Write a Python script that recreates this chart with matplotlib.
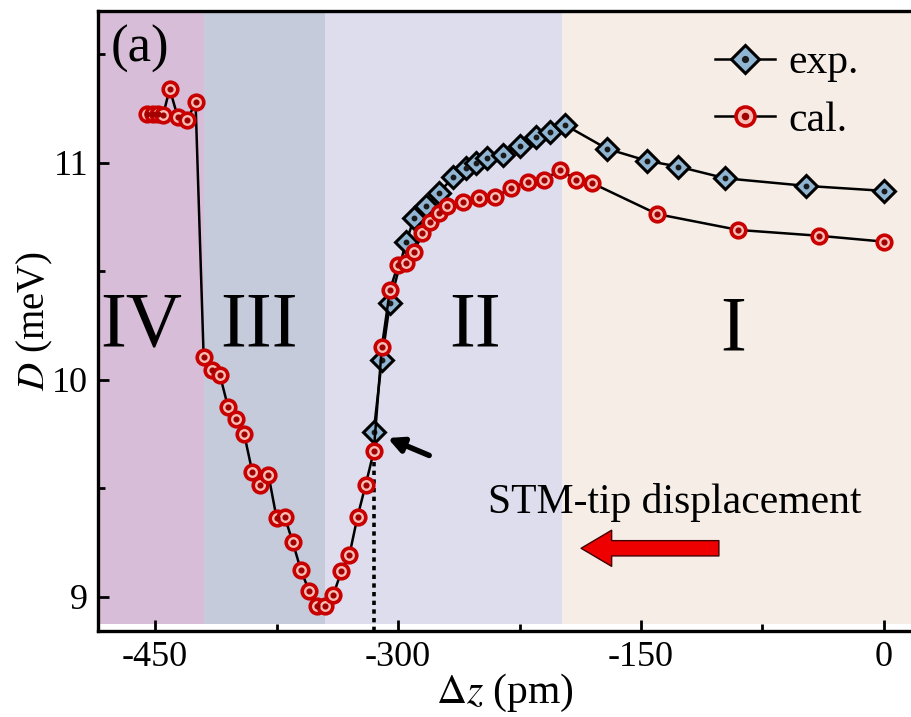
import matplotlib
matplotlib.use("Agg")
import matplotlib.pyplot as plt
from matplotlib.legend_handler import HandlerTuple

plt.rcParams['font.family'] = ['Liberation Serif', 'DejaVu Serif']
plt.rcParams['mathtext.fontset'] = 'stix'
plt.rcParams['axes.unicode_minus'] = False

# ---- data ----
cal_x = [-455, -451, -448, -445, -441, -436, -430, -425,
         -420, -415, -410, -405, -400, -395, -390, -385, -380, -375, -370,
         -365, -360, -355, -350, -345, -340, -335, -330, -325, -320, -315,
         -310, -305, -300, -295, -290, -285, -280, -275, -270, -260, -250,
         -240, -230, -220, -210, -200, -190, -180, -140, -90, -40, 0]
cal_y = [11.226, 11.226, 11.226, 11.221, 11.341, 11.212, 11.198, 11.281,
         10.105, 10.046, 10.023, 9.877, 9.820, 9.751, 9.577, 9.516, 9.562, 9.365, 9.370,
         9.252, 9.124, 9.029, 8.959, 8.959, 9.009, 9.117, 9.194, 9.370, 9.516, 9.670,
         10.151, 10.415, 10.530, 10.538, 10.591, 10.676, 10.729, 10.768, 10.799, 10.822, 10.837,
         10.845, 10.883, 10.914, 10.922, 10.968, 10.922, 10.906, 10.764, 10.691, 10.664, 10.637]

exp_x = [-315, -310, -305, -295, -290, -283, -275, -266, -258, -252, -245,
         -235, -225, -215, -206, -197, -171, -146, -127, -98, -48, 0]
exp_y = [9.762, 10.092, 10.356, 10.637, 10.745, 10.799, 10.860, 10.934, 10.976, 10.999, 11.024,
         11.037, 11.080, 11.118, 11.144, 11.175, 11.065, 11.009, 10.983, 10.929, 10.894, 10.871]

region_names = ['IV', 'III', 'II', 'I']
region_edges = [-490, -420, -345, -199, 20]
region_colors = ['#d7bdd7', '#c6cbdc', '#dddded', '#f6eee6']
region_label_x = [-458.5, -386, -252.5, -93]
region_label_y = [10.157, 10.157, 10.157, 10.14]

xlim = (-485.2, 17.3)
ylim = (8.843, 11.70)

# ---- figure ----
fig = plt.figure(figsize=(9.12, 7.17), dpi=100)
ax = fig.add_axes([0.1075, 0.12, 0.8925, 0.8647])

for i, name in enumerate(region_names):
    ax.axvspan(region_edges[i], region_edges[i + 1], ymin=0.012, ymax=1.0,
               color=region_colors[i], lw=0, zorder=0)
    ax.text(region_label_x[i], region_label_y[i], name, fontsize=56,
            ha='center', va='baseline', zorder=1)

# dotted vertical marker line
ax.vlines(exp_x[0], ylim[0], exp_y[0] - 0.03, colors='black',
          linestyles=(0, (1.2, 1.2)), lw=2.6, zorder=2)

# exp series
l_exp, = ax.plot(exp_x, exp_y, '-', color='black', lw=1.8, marker='D', ms=10.8,
                 mfc='#8fb5d2', mec='black', mew=2.2, zorder=3)
d_exp, = ax.plot(exp_x, exp_y, ls='none', marker='o', ms=3.2, color='#1a1a1a', zorder=3.1)

# cal series
l_cal, = ax.plot(cal_x, cal_y, '-', color='black', lw=1.8, marker='o', ms=10.5,
                 mfc='#f7bcb4', mec='#c80000', mew=2.6, zorder=4)
d_cal, = ax.plot(cal_x, cal_y, ls='none', marker='o', ms=3.4, color='#a00000', zorder=4.1)

# black arrow pointing at first exp point
ax.annotate('', xy=(-308.0, 9.737), xytext=(-279.2, 9.647),
            arrowprops=dict(arrowstyle='-|>,head_length=0.9,head_width=0.45',
                            color='black', lw=4), zorder=5)

# red arrow and text
ax.annotate('', xy=(-188.7, 9.224), xytext=(-100.2, 9.224),
            arrowprops=dict(arrowstyle='simple,head_length=1.1,head_width=1.3,tail_width=0.55',
                            fc='#ee0000', ec='#400000', lw=1.0, mutation_scale=20), zorder=5)
ax.text(-129.2, 9.387, 'STM-tip displacement', fontsize=30, ha='center', va='baseline', zorder=5)

ax.text(-477.3, 11.465, '(a)', fontsize=38, ha='left', va='baseline', zorder=5)

ax.set_xlim(*xlim)
ax.set_ylim(*ylim)
ax.set_xticks([-450, -300, -150, 0])
ax.set_xticks([-375, -225, -75], minor=True)
ax.set_yticks([9, 10, 11])
ax.set_yticks([9.5, 10.5, 11.5], minor=True)
ax.tick_params(which='both', direction='in', width=2, labelsize=26, top=False, right=False)
ax.tick_params(which='major', length=8, pad=7)
ax.tick_params(which='minor', length=5)

for s in ['left', 'bottom', 'top']:
    ax.spines[s].set_linewidth(2.4)
ax.spines['right'].set_visible(False)

ax.set_xlabel(r'$\Delta z$ (pm)', fontsize=30, labelpad=-1)
ax.set_ylabel(r'$D$ (meV)', fontsize=28, labelpad=-2)

leg = ax.legend([(l_exp, d_exp), (l_cal, d_cal)], ['exp.', 'cal.'],
                handler_map={tuple: HandlerTuple(ndivide=1, pad=0)},
                loc='upper right', bbox_to_anchor=(0.934, 0.947), frameon=False,
                fontsize=30, handlelength=1.45, handletextpad=0.3,
                labelspacing=0.45, markerscale=1.3, borderaxespad=0.0, borderpad=0.0)

fig.savefig('out.png', dpi=100)
